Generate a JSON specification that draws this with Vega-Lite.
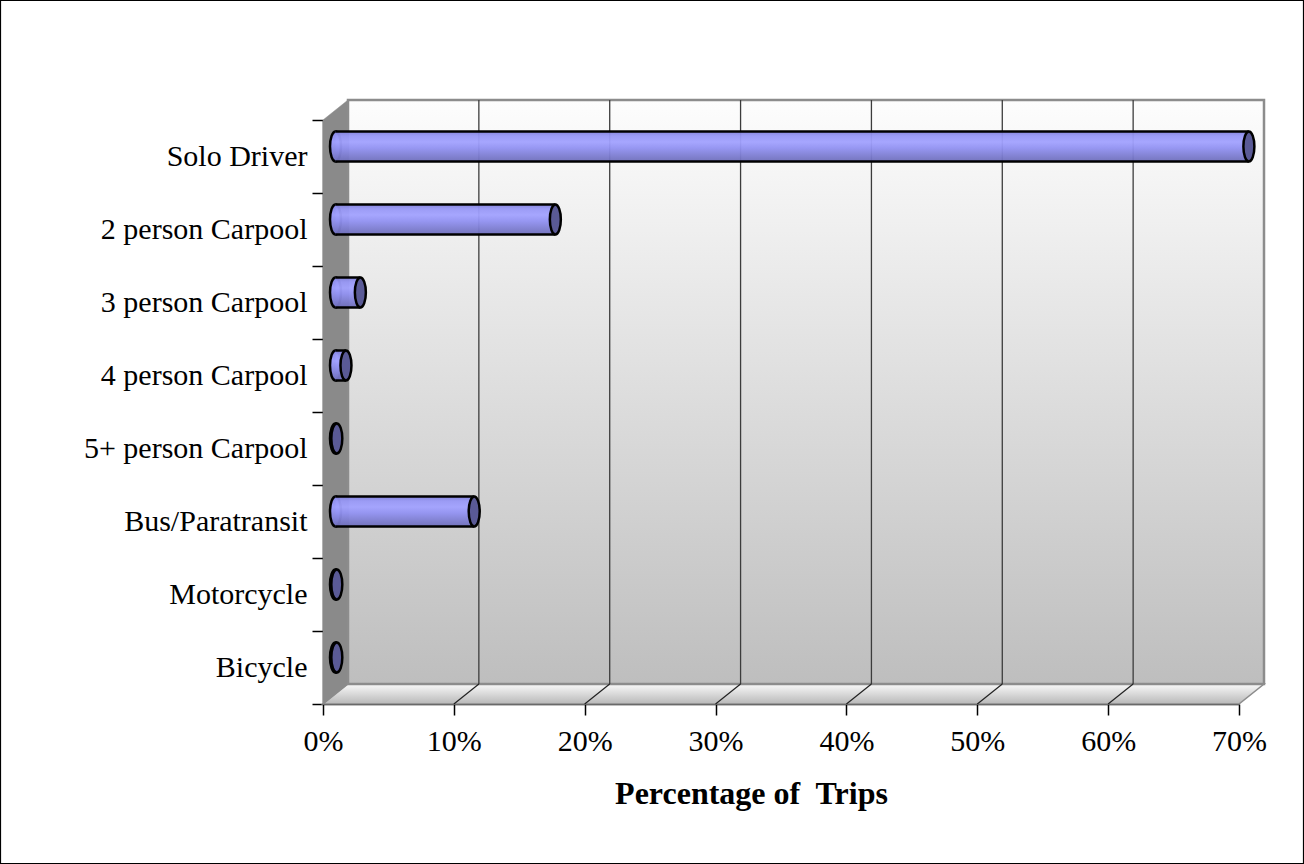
{
  "$schema": "https://vega.github.io/schema/vega-lite/v6.json",
  "autosize": "none",
  "width": 916,
  "height": 584,
  "padding": {"left": 323, "top": 120, "right": 65, "bottom": 160},
  "background": "white",
  "config": {
    "view": {"stroke": null},
    "font": "Liberation Serif",
    "axis": {"labelFont": "Liberation Serif", "titleFont": "Liberation Serif", "labelColor": "black", "titleColor": "black", "domainColor": "black", "tickColor": "black", "domainWidth": 1.5, "tickWidth": 1.5}
  },
  "data": {
    "values": [
      {"mode": "Solo Driver", "pct": 69.8},
      {"mode": "2 person Carpool", "pct": 16.8},
      {"mode": "3 person Carpool", "pct": 1.9},
      {"mode": "4 person Carpool", "pct": 0.8},
      {"mode": "5+ person Carpool", "pct": 0.1},
      {"mode": "Bus/Paratransit", "pct": 10.6},
      {"mode": "Motorcycle", "pct": 0.1},
      {"mode": "Bicycle", "pct": 0.1}
    ]
  },
  "layer": [
    {
      "data": {"values": [{"k": 1}]},
      "mark": {"type": "point", "shape": "M-322.5,-411.5 L980.5,-411.5 L980.5,451.5 L-322.5,451.5 Z", "size": 4, "filled": false, "stroke": "black", "strokeWidth": 1.2, "opacity": 1},
      "encoding": {
        "x": {"datum": 0, "type": "quantitative", "title": "Percentage of\u00a0 Trips", "scale": {"domain": [0, 70], "nice": false}}
      }
    },
    {
      "data": {"values": [{"k": 1}]},
      "mark": {"type": "point", "shape": "M0,292 L916,292 L941,272 L25,272 Z", "size": 4, "filled": true, "opacity": 1, "stroke": "#8c8c8c", "strokeWidth": 1.5,
        "fill": {"gradient": "linear", "x1": 0, "y1": 0, "x2": 0, "y2": 1, "stops": [{"offset": 0, "color": "#fafafa"}, {"offset": 1, "color": "#b8b8b8"}]}},
      "encoding": {"x": {"datum": 0, "type": "quantitative", "title": "Percentage of\u00a0 Trips"}}
    },
    {
      "data": {"values": [{"k": 1}]},
      "mark": {"type": "point", "shape": "M0,292 L25,272 L25,-312 L0,-292 Z", "size": 4, "filled": true, "opacity": 1, "fill": "#8a8a8a", "stroke": "#8a8a8a", "strokeWidth": 0.5},
      "encoding": {"x": {"datum": 0, "type": "quantitative", "title": "Percentage of\u00a0 Trips"}}
    },
    {
      "data": {"values": [{"k": 1}]},
      "mark": {"type": "point", "shape": "M25,272 L941,272 L941,-312 L25,-312 Z", "size": 4, "filled": true, "opacity": 1, "stroke": "#8c8c8c", "strokeWidth": 2.5,
        "fill": {"gradient": "linear", "x1": 0, "y1": 0, "x2": 0, "y2": 1, "stops": [{"offset": 0, "color": "#fdfdfd"}, {"offset": 1, "color": "#bebebe"}]}},
      "encoding": {"x": {"datum": 0, "type": "quantitative", "title": "Percentage of\u00a0 Trips"}}
    },
    {
      "data": {"values": [{"g": 10}, {"g": 20}, {"g": 30}, {"g": 40}, {"g": 50}, {"g": 60}]},
      "mark": {"type": "point", "shape": "M25,272 L25,-312", "size": 4, "filled": false, "opacity": 1, "stroke": "#3c3c3c", "strokeWidth": 1.3},
      "encoding": {"x": {"field": "g", "type": "quantitative", "title": "Percentage of\u00a0 Trips"}}
    },
    {
      "data": {"values": [{"g": 10}, {"g": 20}, {"g": 30}, {"g": 40}, {"g": 50}, {"g": 60}]},
      "mark": {"type": "point", "shape": "M0,292 L25,272", "size": 4, "filled": false, "opacity": 1, "stroke": "#222222", "strokeWidth": 1.2},
      "encoding": {"x": {"field": "g", "type": "quantitative", "title": "Percentage of\u00a0 Trips"}}
    },
    {
      "mark": {"type": "point", "shape": "M0,-15 A5.5,15 0 1,1 0,15 A5.5,15 0 1,1 0,-15 Z", "size": 4, "filled": true, "opacity": 1, "xOffset": 12.5, "yOffset": -10, "stroke": "black", "strokeWidth": 2.5,
        "fill": {"gradient": "linear", "x1": 0, "y1": 0, "x2": 0, "y2": 1, "stops": [{"offset": 0, "color": "#8888e4"}, {"offset": 0.35, "color": "#9e9efc"}, {"offset": 0.7, "color": "#8686dc"}, {"offset": 1, "color": "#7070bc"}]}},
      "encoding": {
        "x": {"datum": 0, "type": "quantitative", "title": "Percentage of\u00a0 Trips"},
        "y": {"field": "mode", "type": "nominal", "sort": null, "title": null,
          "scale": {"paddingInner": 0, "paddingOuter": 0},
          "axis": {"tickBand": "extent", "tickSize": 11, "labelFontSize": 30, "labelPadding": 5, "grid": false, "labelLimit": 400}}
      }
    },
    {
      "mark": {"type": "bar", "height": 30, "xOffset": 12.5, "x2Offset": 12.5, "yOffset": -10, "opacity": 0.95,
        "fill": {"gradient": "linear", "x1": 0, "y1": 0, "x2": 0, "y2": 1, "stops": [{"offset": 0, "color": "#8282dc"}, {"offset": 0.15, "color": "#9898f6"}, {"offset": 0.35, "color": "#a2a2ff"}, {"offset": 0.55, "color": "#9292f2"}, {"offset": 0.8, "color": "#7e7ed2"}, {"offset": 1, "color": "#6e6eba"}]}},
      "encoding": {
        "x": {"field": "pct", "type": "quantitative", "title": "Percentage of\u00a0 Trips",
          "axis": {"values": [0, 10, 20, 30, 40, 50, 60, 70], "labelExpr": "datum.value + '%'", "grid": false, "tickSize": 11, "labelFontSize": 30, "labelPadding": 11, "titleFontSize": 32, "titleFontWeight": "bold", "titleX": 428, "titleY": 74, "titleBaseline": "top", "titleAlign": "center", "labelFlush": false}},
        "y": {"field": "mode", "type": "nominal", "sort": null, "title": null}
      }
    },
    {
      "mark": {"type": "bar", "height": 2.5, "xOffset": 12.5, "x2Offset": 12.5, "yOffset": -25, "fill": "black", "opacity": 1},
      "encoding": {
        "x": {"field": "pct", "type": "quantitative", "title": "Percentage of\u00a0 Trips"},
        "y": {"field": "mode", "type": "nominal", "sort": null, "title": null}
      }
    },
    {
      "mark": {"type": "bar", "height": 2.5, "xOffset": 12.5, "x2Offset": 12.5, "yOffset": 5, "fill": "black", "opacity": 1},
      "encoding": {
        "x": {"field": "pct", "type": "quantitative", "title": "Percentage of\u00a0 Trips"},
        "y": {"field": "mode", "type": "nominal", "sort": null, "title": null}
      }
    },
    {
      "mark": {"type": "point", "shape": "M0,-15 A5.5,15 0 1,1 0,15 A5.5,15 0 1,1 0,-15 Z", "size": 4, "filled": true, "opacity": 1, "xOffset": 12.5, "yOffset": -10, "stroke": "black", "strokeWidth": 2.5, "fill": "#5a5a96"},
      "encoding": {
        "x": {"field": "pct", "type": "quantitative", "title": "Percentage of\u00a0 Trips"},
        "y": {"field": "mode", "type": "nominal", "sort": null, "title": null}
      }
    }
  ]
}
